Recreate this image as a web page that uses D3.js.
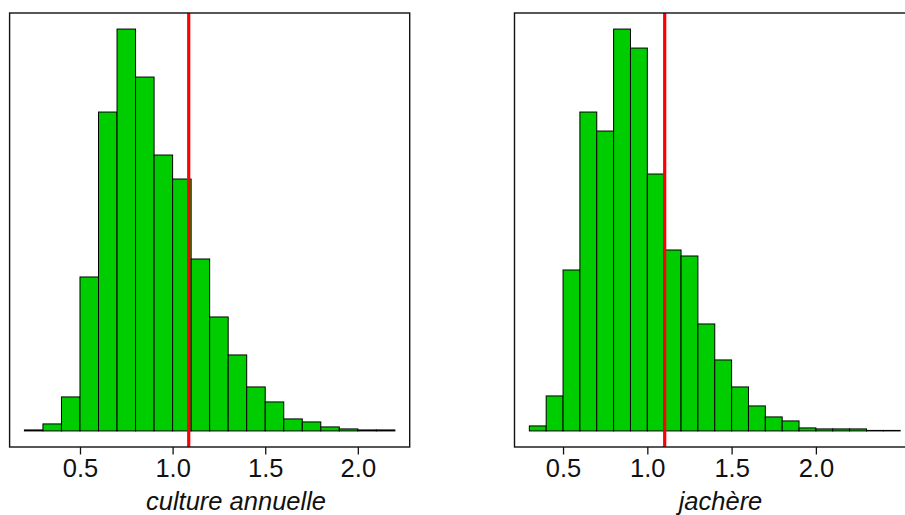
<!DOCTYPE html>
<html>
<head>
<meta charset="utf-8">
<script src="https://cdn.jsdelivr.net/npm/d3@7"></script>
<style>
  html, body { margin: 0; padding: 0; background: #fff; }
  svg { display: block; }
  text { font-family: "Liberation Sans", Arial, Helvetica, sans-serif; }
</style>
</head>
<body>
<svg id="chart" width="905" height="515"></svg>
<script>
// ---- data ----
const leftStart = 0.2, binWidth = 0.1;
const leftCounts = [1, 7, 34, 154, 319, 402, 354, 276, 252, 172, 114, 76, 44, 29, 12, 9, 4, 2, 1, 1];
const leftMean = 1.087;
const leftLabel = "culture annuelle";

const rightStart = 0.3;
const rightCounts = [5, 35, 161, 319, 300, 402, 383, 257, 181, 175, 107, 71, 44, 25, 14, 10, 3, 2, 2, 2, 0.5, 0.5];
const rightMean = 1.103;
const rightLabel = "jachère";

const tickValues = [0.5, 1.0, 1.5, 2.0];

// ---- drawing ----
const svg = d3.select("#chart");
const plotTop = 13, plotBottom = 447;

function panel(cfg) {
  const n = cfg.counts.length;
  const lo = cfg.start, hi = cfg.start + n * binWidth;
  const pad = (hi - lo) * 0.04;
  const x = d3.scaleLinear().domain([lo - pad, hi + pad]).range([cfg.x0, cfg.x1]);
  const ymax = d3.max(cfg.counts);
  const y = d3.scaleLinear().domain([-0.04 * ymax, 1.04 * ymax]).range([plotBottom, plotTop]);
  const bins = cfg.counts.map((c, i) => ({ x0: lo + i * binWidth, x1: lo + (i + 1) * binWidth, c }));
  const g = svg.append("g");

  g.selectAll("rect.bar").data(bins).join("rect")
    .attr("class", "bar")
    .attr("x", d => x(d.x0))
    .attr("width", d => x(d.x1) - x(d.x0))
    .attr("y", d => y(d.c))
    .attr("height", d => y(0) - y(d.c))
    .attr("fill", "#00CD00")
    .attr("stroke", "#000")
    .attr("stroke-width", 1);

  g.append("line")
    .attr("x1", x(cfg.mean)).attr("x2", x(cfg.mean))
    .attr("y1", plotTop).attr("y2", plotBottom)
    .attr("stroke", "#FF0000").attr("stroke-width", 3.2);

  g.append("rect")
    .attr("x", cfg.x0).attr("y", plotTop)
    .attr("width", cfg.x1 - cfg.x0).attr("height", plotBottom - plotTop)
    .attr("fill", "none").attr("stroke", "#111").attr("stroke-width", 1.4);

  const ax = g.append("g").attr("transform", `translate(0,${plotBottom})`)
    .call(d3.axisBottom(x).tickValues(tickValues).tickFormat(d3.format(".1f")).tickSizeOuter(0).tickSize(7.5).tickPadding(4.5));
  ax.select(".domain").remove();
  ax.selectAll(".tick line").attr("stroke", "#111").attr("stroke-width", 1.3);
  ax.selectAll(".tick text").attr("font-size", "25.5px").attr("fill", "#111")
    .attr("font-family", "Liberation Sans, Arial, sans-serif");

  g.append("text")
    .attr("x", cfg.labelX).attr("y", 510)
    .attr("text-anchor", "middle")
    .attr("font-size", "25.5px")
    .attr("font-style", "italic")
    .attr("fill", "#111")
    .text(cfg.label);
}

panel({ counts: leftCounts, start: leftStart, mean: leftMean, label: leftLabel, x0: 9.6, x1: 409.7, labelX: 236 });
panel({ counts: rightCounts, start: rightStart, mean: rightMean, label: rightLabel, x0: 514.5, x1: 915, labelX: 720.5 });
</script>
</body>
</html>
